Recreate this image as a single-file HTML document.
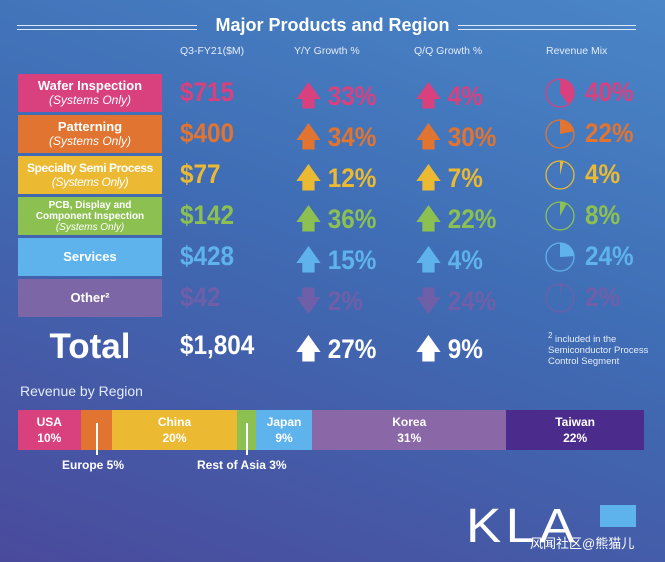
<!DOCTYPE html>
<html><head><meta charset="utf-8"><style>
body{margin:0;width:665px;height:562px;overflow:hidden;font-family:"Liberation Sans",sans-serif;}
#bg{position:absolute;left:0;top:0;width:665px;height:562px;background:linear-gradient(200deg,#4a86c8 0%,#3f6cb4 45%,#4a4a9c 100%);}
.abs{position:absolute;}
.title{left:0;width:665px;top:15px;text-align:center;color:#fff;font-weight:bold;font-size:18px;}
.dl{height:5px;border-top:1.5px solid #dde8f6;border-bottom:1.5px solid #dde8f6;box-sizing:border-box;top:25px;}
.hdr{top:45px;color:#e4ecf8;font-size:10.5px;}
.lab{left:18px;width:144px;height:38px;color:#fff;text-align:center;display:flex;flex-direction:column;justify-content:center;font-weight:bold;font-size:13px;line-height:14px;}
.lab i{font-weight:normal;font-size:12px;}
.big{font-weight:700;font-size:27px;transform:scaleX(0.9);transform-origin:left center;}
.seg{top:410px;height:40px;color:#fff;font-weight:bold;font-size:12px;text-align:center;display:flex;flex-direction:column;justify-content:center;line-height:16px;}
</style></head><body>
<div id="bg"></div>
<div class="abs title">Major Products and Region</div>
<div class="abs dl" style="left:17px;width:180px"></div>
<div class="abs dl" style="left:458px;width:178px"></div>
<div class="abs hdr" style="left:180px">Q3-FY21($M)</div>
<div class="abs hdr" style="left:294px">Y/Y Growth %</div>
<div class="abs hdr" style="left:414px">Q/Q Growth %</div>
<div class="abs hdr" style="left:546px">Revenue Mix</div>
<div id="rows"></div>
<div class="abs" style="left:18px;top:327px;width:144px;text-align:center;color:#fff;font-weight:bold;font-size:35px">Total</div>
<div class="abs big" style="left:180px;top:330px;color:#fff">$1,804</div>
<div class="abs big" style="left:296px;top:330px;color:#fff">🡅 27%</div>
<div class="abs big" style="left:416px;top:330px;color:#fff">🡅 9%</div>
<div class="abs" style="left:548px;top:330px;color:#e4ecf8;font-size:9.5px;line-height:11px"><sup>2</sup> included in the<br>Semiconductor Process<br>Control Segment</div>
<div class="abs" style="left:20px;top:383px;color:#e4ecf8;font-size:14px">Revenue by Region</div>
<div id="region"></div>
<div class="abs" style="left:96px;top:423px;width:2px;height:32px;background:#fff"></div>
<div class="abs" style="left:62px;top:458px;color:#fff;font-weight:bold;font-size:12px">Europe 5%</div>
<div class="abs" style="left:246px;top:423px;width:2px;height:32px;background:#fff"></div>
<div class="abs" style="left:197px;top:458px;color:#fff;font-weight:bold;font-size:12px">Rest of Asia 3%</div>
<div class="abs" style="left:466px;top:503px;color:#fff;font-size:48px;letter-spacing:4px;font-weight:normal;line-height:48px;transform:scaleX(1.1);transform-origin:left">KLA</div>
<div class="abs" style="left:600px;top:505px;width:36px;height:22px;background:#5fb3ec"></div>
<div class="abs" style="left:530px;top:533px;color:#fff;font-size:13px;font-family:'Liberation Sans','Noto Sans CJK SC',sans-serif">风闻社区@熊猫儿</div>
<script>
const labels=["Wafer Inspection","Patterning","Specialty Semi Process","PCB, Display and Component Inspection","Services","Other²"];
const subs=["(Systems Only)","(Systems Only)","(Systems Only)","(Systems Only)","",""];
const revenue=[715,400,77,142,428,42];
const yy=[33,34,12,36,15,-2];
const qq=[4,30,7,22,4,-24];
const mix=[40,22,4,8,24,2];
const colors=["#d9407e","#e07430","#ebb932","#8cc152","#5fb3ec","#7d66a6"];
const rowsEl=document.getElementById('rows');
labels.forEach((l,i)=>{
 const y=74+i*41;const c=colors[i];const tc=i==5?"#6e5fa8":c;
 const lab=document.createElement('div');lab.className='abs lab';lab.style.top=y+'px';lab.style.background=c;
 if(i==2){lab.style.fontSize='12px';lab.style.letterSpacing='-0.4px';}
 if(i==3){lab.style.fontSize='10px';lab.style.lineHeight='11px';lab.style.padding='0 14px';lab.style.boxSizing='border-box';}
 lab.innerHTML=l+(subs[i]?'<i style="font-size:'+(i==3?'10':'12')+'px">'+subs[i]+'</i>':'');
 
 
 rowsEl.appendChild(lab);
 const mk=(x,txt,n)=>{const d=document.createElement('div');d.className='abs big';d.style.left=x+'px';d.style.top=(y+3)+'px';d.style.color=tc;d.textContent=txt;
  
  
  rowsEl.appendChild(d);};
 mk(180,'$'+revenue[i],'revenue-'+i);
 mk(296,(yy[i]<0?'🡇 ':'🡅 ')+Math.abs(yy[i])+'%','yy-'+i);
 mk(416,(qq[i]<0?'🡇 ':'🡅 ')+Math.abs(qq[i])+'%','qq-'+i);
 mk(585,mix[i]+'%','mix-'+i);
 const cx=560,cy=y+19,r=14,a=mix[i]/100*2*Math.PI;
 const ex=cx+r*Math.sin(a),ey=cy-r*Math.cos(a);
 const svg=document.createElementNS('http://www.w3.org/2000/svg','svg');
 svg.setAttribute('width','665');svg.setAttribute('height','562');svg.style.position='absolute';svg.style.left='0';svg.style.top='0';
 
 
 svg.innerHTML='<circle cx="'+cx+'" cy="'+cy+'" r="'+r+'" fill="none" stroke="'+tc+'" stroke-width="1.3"/><path d="M'+cx+' '+cy+' L'+cx+' '+(cy-r)+' A'+r+' '+r+' 0 '+(a>Math.PI?1:0)+' 1 '+ex+' '+ey+' Z" fill="'+tc+'"/>';
 rowsEl.appendChild(svg);
});
const regions=["USA","","China","","Japan","Korea","Taiwan"];
const regionPct=[10,5,20,3,9,31,22];
const regionColors=["#d9407e","#e07430","#ebb932","#8cc152","#5fb3ec","#8a68a8","#4b2c8c"];
const reg=document.getElementById('region');let x=18;const W=626;
regions.forEach((r,i)=>{const w=regionPct[i]/100*W;const d=document.createElement('div');d.className='abs seg';
 d.style.left=x+'px';d.style.width=w+'px';d.style.background=regionColors[i];
 d.innerHTML=r?r+'<br>'+regionPct[i]+'%':'';
 
 
 reg.appendChild(d);x+=w;});
</script>
</body></html>
